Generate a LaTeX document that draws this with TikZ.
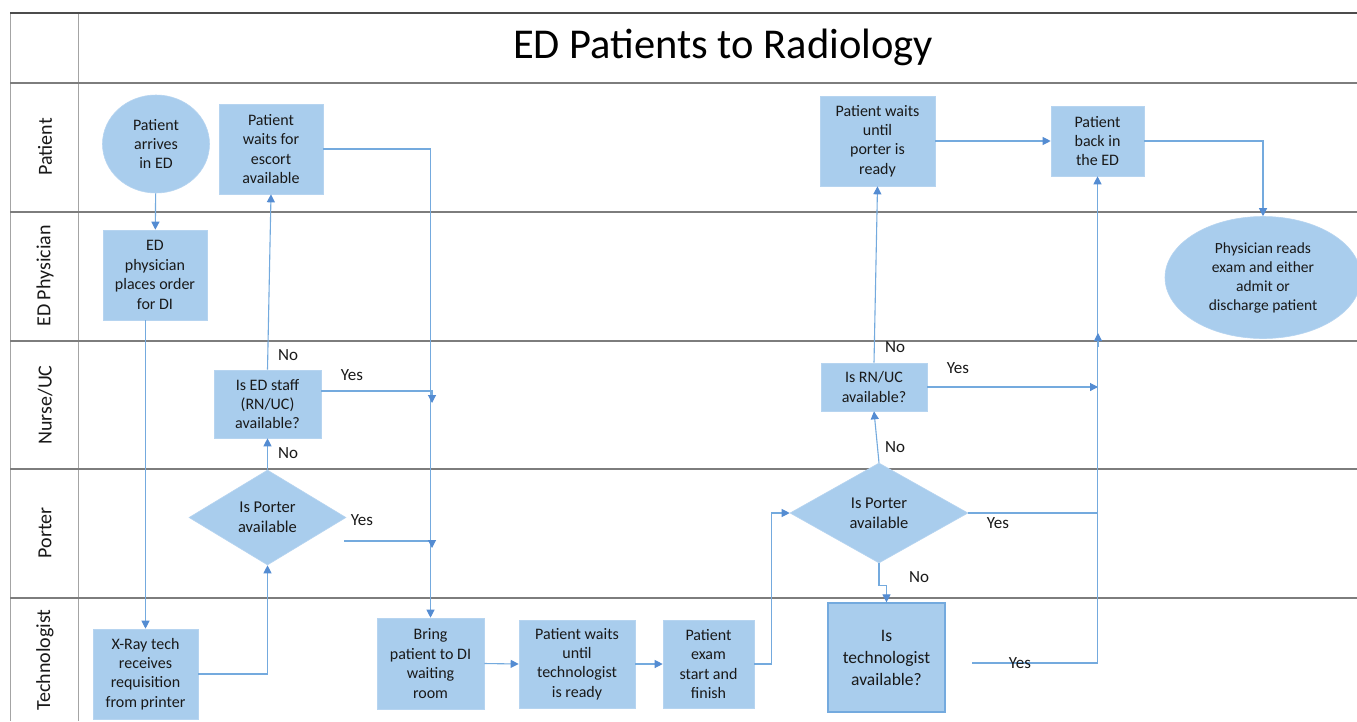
\documentclass[tikz,border=0pt]{standalone}
\usepackage{fontspec}
\setmainfont{Carlito}
\usetikzlibrary{arrows.meta,shapes.geometric}
\definecolor{boxfill}{RGB}{169,205,237}
\definecolor{conncol}{RGB}{116,170,222}
\definecolor{arrowcol}{RGB}{84,140,210}
\definecolor{gridcol}{RGB}{125,125,125}
\definecolor{txtcol}{RGB}{25,25,25}
\tikzset{
  gridline/.style={draw=gridcol, line width=1.4pt},
  vline/.style={draw=gridcol!70, line width=0.8pt},
  lanelabel/.style={rotate=90, font=\fontsize{20}{24}\selectfont, text=txtcol},
  procbox/.style={rectangle, fill=boxfill, draw=boxfill!85!white, line width=0.6pt, align=center, inner sep=0pt, text=txtcol, font=\fontsize{16}{19.4}\selectfont},
  roundbox/.style={ellipse, fill=boxfill, draw=boxfill!85!white, line width=0.6pt, align=center, inner sep=0pt, text=txtcol, font=\fontsize{16}{19.4}\selectfont},
  decbox/.style={diamond, fill=boxfill, draw=boxfill!85!white, line width=0.6pt, align=center, inner sep=0pt, aspect=1.65, text=txtcol, font=\fontsize{16.5}{19.6}\selectfont},
  conn/.style={draw=conncol, line width=1.1pt},
  arr/.style={conn, -{Triangle[width=8pt,length=8pt,color=arrowcol]}},
  lbl/.style={font=\fontsize{17}{20}\selectfont, text=txtcol, inner sep=0pt}
}
\begin{document}
\begin{tikzpicture}[x=1pt,y=-1pt]
\useasboundingbox[fill=white] (0,0) rectangle (1357,721);
% grid
\draw[vline] (10,13) -- (10,721);
\draw[vline] (78,13) -- (78,721);
\draw[draw=black!70, line width=1.8pt] (10,13) -- (1357,13);
\foreach \yy in {83,212,341,469,598} {\draw[gridline] (10,\yy) -- (1357,\yy);}
\node[font=\fontsize{42.5}{48}\selectfont, text=black] (title) at (723,47) {ED Patients to Radiology};
\node[lanelabel] (lpat) at (45,147) {Patient};
\node[lanelabel] (lphy) at (45,276) {ED Physician};
\node[lanelabel] (lnur) at (45,405) {Nurse/UC};
\node[lanelabel] (lpor) at (45,533) {Porter};
\node[lanelabel] (ltec) at (45,660) {Technologist};
% nodes
\node[roundbox, minimum width=107pt, minimum height=98pt] (arrive) at (156,144) {Patient\\arrives\\in ED};
\node[procbox, minimum width=104pt, minimum height=90pt] (escort) at (271,149) {Patient\\waits for\\escort\\available};
\node[procbox, minimum width=104pt, minimum height=90pt] (order) at (155,275) {ED\\physician\\places order\\for DI};
\node[procbox, minimum width=107pt, minimum height=68pt] (staff) at (267.5,404) {Is ED staff\\(RN/UC)\\available?};
\node[decbox, minimum width=157pt, minimum height=95pt] (porterA) at (267.5,517.5) {Is Porter\\available};
\node[procbox, minimum width=105pt, minimum height=90pt] (xray) at (145.5,674) {X-Ray tech\\receives\\requisition\\from printer};
\node[procbox, minimum width=107pt, minimum height=91pt] (bring) at (430.5,663.5) {Bring\\patient to DI\\waiting\\room};
\node[procbox, minimum width=116pt, minimum height=88pt] (waittech) at (577,664) {Patient waits\\until\\technologist\\is ready};
\node[procbox, minimum width=91pt, minimum height=88pt] (exam) at (708.5,664) {Patient\\exam\\start and\\finish};
\node[procbox, draw=conncol, line width=1.2pt, minimum width=117pt, minimum height=109pt, font=\fontsize{17.5}{22}\selectfont] (techav) at (886.5,657.5) {Is\\technologist\\available?};
\node[decbox, minimum width=178pt, minimum height=100pt] (porterB) at (879,513) {Is Porter\\available};
\node[procbox, minimum width=106pt, minimum height=48pt] (rnuc) at (874,387) {Is RN/UC\\available?};
\node[procbox, minimum width=115pt, minimum height=90pt] (waitporter) at (877.5,141) {Patient waits\\until\\porter is\\ready};
\node[procbox, minimum width=93pt, minimum height=70pt] (back) at (1097.5,141) {Patient\\back in\\the ED};
\node[roundbox, minimum width=196pt, minimum height=122pt, font=\fontsize{15.5}{19}\selectfont] (reads) at (1263,277.5) {Physician reads\\exam and either\\admit or\\discharge patient};
% junction coordinates
\coordinate (syes) at (321,391);
\coordinate (jA) at (432,403);
\coordinate (jB) at (432,548);
\coordinate (pyes) at (344,541);
\coordinate (jC) at (1098,333);
\coordinate (jCb) at (1098,347);
\coordinate (tyes) at (972,663);
% connectors
\draw[arr] (arrive) -- (order);
\draw[arr] (order.south -| xray.north) -- (xray.north);
\draw[arr] (xray.east) -| (porterA.south);
\draw[arr] (porterA.north) -- (staff.south);
\draw[arr] (staff.north) -- (escort.south);
\draw[arr] (escort.east) -| (bring.north);
\draw[arr] (syes) -| (jA);
\draw[arr] (pyes) -| (jB);
\draw[arr] (bring.east) -- (waittech.west);
\draw[arr] (waittech.east) -- (exam.west);
\draw[arr] (exam.east) -- ++(17,0) |- (porterB.west);
\draw[arr] (porterB.north) -- (rnuc.south);
\draw[arr] (rnuc.north) -- (waitporter.south);
\draw[arr] (rnuc.east) -- (rnuc.east -| jC);
\draw[conn] (porterB.east) -- (porterB.east -| jC);
\draw[arr] (porterB.south) -- ++(0,22) -| (techav.north);
\draw[arr] (tyes) -| (back.south);
\draw[arr] (jCb) -- (jC);
\draw[arr] (waitporter.east) -- (back.west);
\draw[arr] (back.east) -| (reads.north);
% labels
\node[lbl] (n1) at (288,355) {No};
\node[lbl] (y1) at (352,375) {Yes};
\node[lbl] (n2) at (288,453) {No};
\node[lbl] (y2) at (362,520) {Yes};
\node[lbl] (n3) at (895,347) {No};
\node[lbl] (y3) at (958,368) {Yes};
\node[lbl] (n4) at (895,447) {No};
\node[lbl] (y4) at (998,523) {Yes};
\node[lbl] (n5) at (919,577) {No};
\node[lbl] (y5) at (1020,663) {Yes};
\end{tikzpicture}
\end{document}
